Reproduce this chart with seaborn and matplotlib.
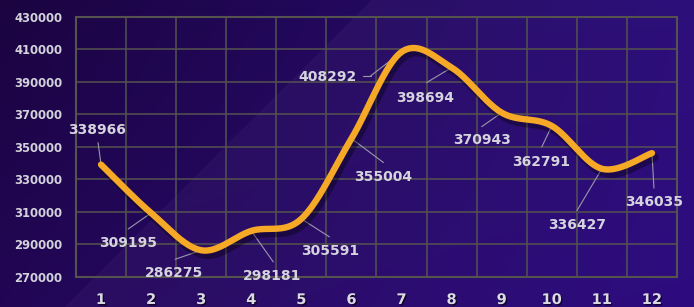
import numpy as np
import pandas as pd
import matplotlib
matplotlib.use("Agg")
import matplotlib.pyplot as plt
import matplotlib.patheffects as pe
import seaborn as sns

# ---- data ----
months = [1, 2, 3, 4, 5, 6, 7, 8, 9, 10, 11, 12]
values = [338966, 309195, 286275, 298181, 305591, 355004,
          408292, 398694, 370943, 362791, 336427, 346035]
y_ticks = [270000, 290000, 310000, 330000, 350000, 370000, 390000, 410000, 430000]

# label placement (pixel offsets from each point: leader end, text centre)
leader_off = [(-3, -22), (-23, 16), (-26, 9), (22, 31), (28, 18), (32, 24),
              (-31, 24), (-25, 15), (-20, 14), (-10, 21), (-25, 42), (2, 35)]
text_off = [(-4, -35), (-23, 30), (-27, 23), (21, 45), (29, 32), (32, 38),
            (-74, 25), (-26, 30), (-20, 27), (-11, 36), (-25, 56), (2, 49)]

W, H = 694, 307
sns.set_theme(style="dark")
plt.rcParams['font.family'] = ['DejaVu Sans']

fig = plt.figure(figsize=(W / 100, H / 100), dpi=100)

# ---- background gradient ----
bg = fig.add_axes([0, 0, 1, 1], zorder=-10)
yy, xx = np.mgrid[0:H, 0:W]
u = xx / (W - 1)
v = yy / (H - 1)
tl = np.array([0x1b, 0x04, 0x40]) / 255
tr = np.array([0x2a, 0x0c, 0x78]) / 255
bl = np.array([0x22, 0x06, 0x55]) / 255
br = np.array([0x2e, 0x0c, 0x80]) / 255
img = ((1 - u)[..., None] * (1 - v)[..., None] * tl + u[..., None] * (1 - v)[..., None] * tr
       + (1 - u)[..., None] * v[..., None] * bl + u[..., None] * v[..., None] * br)
s = xx + yy
band = np.where(s > 370, np.clip(1 - (s - 370) / 600, 0, 1), 0.0)
img = img + band[..., None] * np.array([0.028, 0.028, 0.024])
img = np.clip(img, 0, 1)
bg.imshow(img, aspect='auto', extent=[0, 1, 0, 1], origin='upper')
bg.axis('off')

# ---- main axes ----
left, right = 76 / W, 677 / W
top, bottom = 1 - 16.7 / H, 1 - 276.7 / H
ax = fig.add_axes([left, bottom, right - left, top - bottom])
ax.set_facecolor('none')

# smooth curve (Catmull-Rom through the data points)
xs = np.array(months, dtype=float)
ys = np.array(values, dtype=float)
px = np.concatenate([[xs[0]], xs, [xs[-1]]])
py = np.concatenate([[ys[0]], ys, [ys[-1]]])
cx, cy = [], []
tt = np.linspace(0, 1, 40)
for i in range(1, len(px) - 2):
    p0x, p1x, p2x, p3x = px[i - 1], px[i], px[i + 1], px[i + 2]
    p0y, p1y, p2y, p3y = py[i - 1], py[i], py[i + 1], py[i + 2]
    m1x, m2x = (p2x - p0x) / 2, (p3x - p1x) / 2
    m1y, m2y = (p2y - p0y) / 2, (p3y - p1y) / 2
    h00 = 2 * tt**3 - 3 * tt**2 + 1
    h10 = tt**3 - 2 * tt**2 + tt
    h01 = -2 * tt**3 + 3 * tt**2
    h11 = tt**3 - tt**2
    cx.extend(h00 * p1x + h10 * m1x + h01 * p2x + h11 * m2x)
    cy.extend(h00 * p1y + h10 * m1y + h01 * p2y + h11 * m2y)
curve = pd.DataFrame({'x': cx, 'y': cy})

sns.lineplot(data=curve, x='x', y='y', sort=False, ax=ax, color='#f6a827',
             linewidth=4.6, zorder=5, solid_capstyle='round',
             path_effects=[pe.SimpleLineShadow(offset=(2, -3), shadow_color='black', alpha=0.35, linewidth=6),
                           pe.Normal()])

grid_col = '#56534f'
ax.set_xlim(0.5, 12.5)
ax.set_ylim(270000, 430000)
ax.set_yticks(y_ticks)
ax.set_yticklabels([str(t) for t in y_ticks])
ax.set_xticks(months)
ax.set_xticklabels([str(m) for m in months])
ax.set_xticks(np.arange(0.5, 13, 1), minor=True)
ax.grid(False)
ax.grid(True, which='minor', axis='x', color=grid_col, linewidth=1.1)
ax.grid(True, which='major', axis='y', color=grid_col, linewidth=1.1)
ax.set_axisbelow(True)
ax.tick_params(axis='both', which='both', length=0)
ax.tick_params(axis='y', pad=10, labelsize=8.4, labelcolor='#d2d2da')
ax.tick_params(axis='x', pad=11, labelsize=10.5, labelcolor='#dadae2')
for lab in ax.get_yticklabels():
    lab.set_fontweight('bold')
for lab in ax.get_xticklabels():
    lab.set_fontweight('bold')
    lab.set_path_effects([pe.withSimplePatchShadow(offset=(1, -1), shadow_rgbFace='black', alpha=0.6)])
for sp in ax.spines.values():
    sp.set_visible(True)
    sp.set_color(grid_col)
    sp.set_linewidth(1.5)
ax.set_xlabel('')
ax.set_ylabel('')

# ---- data labels with leader lines ----
lead_col = '#9a98aa'
for i, (m, val) in enumerate(zip(months, values)):
    lx, ly = leader_off[i]
    tx, ty = text_off[i]
    ax.annotate('', xy=(m, val), xytext=(lx, -ly), textcoords='offset pixels',
                arrowprops=dict(arrowstyle='-', color=lead_col, lw=0.8,
                                shrinkA=0, shrinkB=0), zorder=3)
    ax.annotate(str(val), xy=(m, val), xytext=(tx, -ty), textcoords='offset pixels',
                ha='center', va='center', fontsize=10, fontweight='bold',
                color='#d4d3de', zorder=6)

# horizontal stub of the 7th label's leader
fig.canvas.draw()
p7 = ax.transData.transform((months[6], values[6]))
lx7, ly7 = leader_off[6]
fig.add_artist(plt.Line2D([p7[0] + lx7, p7[0] + lx7 - 8], [p7[1] - ly7, p7[1] - ly7],
                          transform=None, color=lead_col, lw=0.8))

fig.savefig('out.png', dpi=100)
